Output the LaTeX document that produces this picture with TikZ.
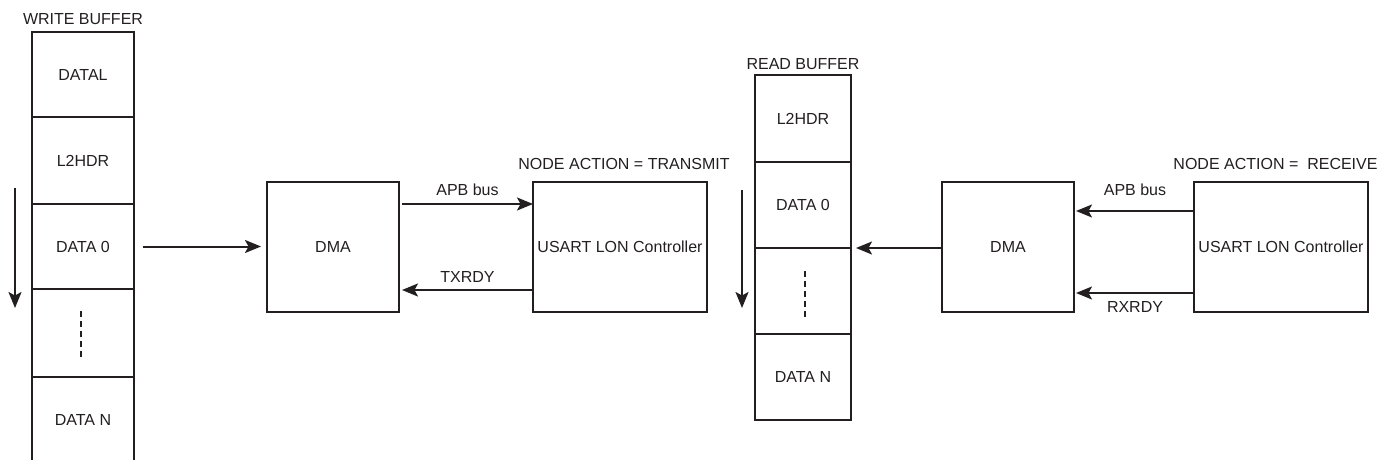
\documentclass[tikz,border=0pt]{standalone}
\usepackage{fontspec}
\setmainfont{Liberation Sans}
\usetikzlibrary{arrows.meta,calc}
\definecolor{ink}{HTML}{231F20}
\begin{document}
\begin{tikzpicture}[x=1pt,y=-1pt,
  every node/.style={font=\fontsize{16}{19}\selectfont, text=ink},
  cellbox/.style={draw=ink, line width=2.4pt, inner sep=0pt, outer sep=0pt, minimum width=#1},
  blockbox/.style={draw=ink, line width=2.4pt, inner sep=0pt, outer sep=0pt, minimum height=130pt, minimum width=#1},
  conn/.style={draw=ink, line width=2pt, -{Stealth[length=16pt,width=13pt,inset=3.5pt]}},
  dots/.style={draw=ink, line width=1.1pt, dash pattern=on 6pt off 4pt},
  lbl/.style={inner sep=0pt}
]
\clip (0,0) rectangle (1380,460);
% write buffer
\node[lbl] (wbl) at (83,19) {WRITE BUFFER};
\node[cellbox=102pt, minimum height=85pt] (w1) at (83,74.5) {DATAL};
\node[cellbox=102pt, minimum height=87pt] (w2) at (83,160.5) {L2HDR};
\node[cellbox=102pt, minimum height=85pt] (w3) at (83,246.5) {DATA 0};
\node[cellbox=102pt, minimum height=88pt] (w4) at (83,333) {};
\node[cellbox=102pt, minimum height=85pt] (w5) at (83,419.5) {DATA N};
\coordinate (wd1) at (81,311);
\coordinate (wd2) at (81,358);
\draw[dots] (wd1) -- (wd2);
\coordinate (wa1) at (15,188);
\coordinate (wa2) at (15,308);
\draw[conn] (wa1) -- (wa2);
% transmit side
\node[blockbox=132pt] (dma1) at (333,247) {DMA};
\node[blockbox=174pt] (us1) at (620,247) {USART LON Controller};
\node[lbl] (na1) at (624,164) {NODE ACTION = TRANSMIT};
\draw[conn, shorten >=6pt] (w3.east) ++(9pt,0) coordinate (ws) -- (ws -| dma1.west);
\draw[conn] ([xshift=3pt,yshift=43pt]dma1.east) -- ([yshift=43pt]us1.west)
  node[lbl, midway, above=7pt] (apb1) {APB bus};
\draw[conn] ([yshift=-43pt]us1.west) -- ([xshift=3pt,yshift=-43pt]dma1.east)
  node[lbl, midway, above=7pt] (tx1) {TXRDY};
% read buffer
\node[lbl] (rbl) at (803,64) {READ BUFFER};
\node[cellbox=96pt, minimum height=87pt] (r1) at (803,118.5) {L2HDR};
\node[cellbox=96pt, minimum height=86pt] (r2) at (803,205) {DATA 0};
\node[cellbox=96pt, minimum height=86pt] (r3) at (803,291) {};
\node[cellbox=96pt, minimum height=86pt] (r4) at (803,377) {DATA N};
\coordinate (rd1) at (805,271);
\coordinate (rd2) at (805,318);
\draw[dots] (rd1) -- (rd2);
\coordinate (ra1) at (742,190);
\coordinate (ra2) at (742,308);
\draw[conn] (ra1) -- (ra2);
% receive side
\node[blockbox=132pt] (dma2) at (1008,247) {DMA};
\node[blockbox=174pt] (us2) at (1281,247) {USART LON Controller};
\node[lbl] (na2) at (1275.5,164) {NODE ACTION =\ \ RECEIVE};
\draw[conn, shorten >=5pt] (dma2.west |- r3.north east) -- (r3.north east);
\draw[conn] ([yshift=36pt]us2.west) -- ([xshift=2pt,yshift=36pt]dma2.east)
  node[lbl, midway, above=14pt] (apb2) {APB bus};
\draw[conn] ([yshift=-46pt]us2.west) -- ([xshift=2pt,yshift=-46pt]dma2.east)
  node[lbl, midway, below=7pt] (rx2) {RXRDY};
\end{tikzpicture}
\end{document}
